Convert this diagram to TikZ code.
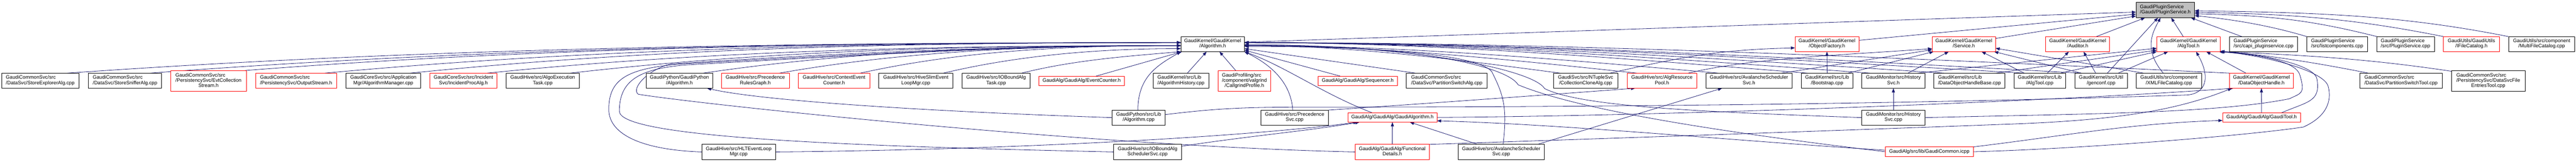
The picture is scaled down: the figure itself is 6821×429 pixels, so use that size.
\documentclass[tikz,border=0pt]{standalone}
\usepackage{fontspec}
\setmainfont{Liberation Sans}
\usetikzlibrary{arrows.meta,calc}
\definecolor{edgeblue}{HTML}{191970}
\definecolor{nodered}{HTML}{FF0000}
\definecolor{rootgrey}{HTML}{BFBFBF}
\pgfdeclarelayer{bg}
\pgfsetlayers{bg,main}
\newcommand\Lone[1]{\begin{tabular}{@{}c@{}}#1\end{tabular}}
\newcommand\Ltwo[2]{\begin{tabular}{@{}l@{}}#1\\\multicolumn{1}{@{}c@{}}{#2}\end{tabular}}
\newcommand\Lthree[3]{\begin{tabular}{@{}l@{}}#1\\#2\\\multicolumn{1}{@{}c@{}}{#3}\end{tabular}}
\newcommand\mknode[7]{\node[#1,minimum width=#2pt,minimum height=#3pt] (#4) at (#5,#6) {#7};}
\begin{document}
\begin{tikzpicture}[x=1pt,y=-1pt,
  gbox/.style={draw=black, line width=1.1pt, fill=white, inner sep=0pt, outer sep=0pt, font=\fontsize{13.2pt}{14pt}\selectfont},
  nb/.style={gbox},
  nr/.style={gbox, draw=nodered},
  ng/.style={gbox, fill=rootgrey},
  dep/.style={draw=edgeblue, line width=1.1pt, -{Triangle[length=11pt,width=8pt]}}]
\useasboundingbox (0,0) rectangle (6821,429);
% ---- level 0
\mknode{ng}{155}{41}{root}{5733.5}{26.5}{\Ltwo{GaudiPluginService}{/Gaudi/PluginService.h}}
% ---- level 1
\mknode{nb}{168}{40}{algh}{3211}{117}{\Ltwo{GaudiKernel/GaudiKernel}{/Algorithm.h}}
\mknode{nr}{169}{40}{objfactory}{4837.5}{117}{\Ltwo{GaudiKernel/GaudiKernel}{/ObjectFactory.h}}
\mknode{nr}{168}{40}{service}{5200}{117}{\Ltwo{GaudiKernel/GaudiKernel}{/Service.h}}
\mknode{nr}{169}{40}{auditor}{5501.5}{117}{\Ltwo{GaudiKernel/GaudiKernel}{/Auditor.h}}
\mknode{nr}{168}{40}{algtool}{5795}{117}{\Ltwo{GaudiKernel/GaudiKernel}{/AlgTool.h}}
\mknode{nb}{181}{40}{capi}{5993.5}{117}{\Ltwo{GaudiPluginService}{/src/capi\_pluginservice.cpp}}
\mknode{nb}{161}{40}{listcomp}{6188.5}{117}{\Ltwo{GaudiPluginService}{/src/listcomponents.cpp}}
\mknode{nb}{153}{40}{pscpp}{6369.5}{117}{\Ltwo{GaudiPluginService}{/src/PluginService.cpp}}
\mknode{nr}{148}{40}{ifilecat}{6544}{117}{\Ltwo{GaudiUtils/GaudiUtils}{/IFileCatalog.h}}
\mknode{nb}{174}{40}{multicat}{6730}{117}{\Ltwo{GaudiUtils/src/component}{/MultiFileCatalog.cpp}}
% ---- level 2
\mknode{nb}{205}{40}{storeexp}{106.5}{214}{\Ltwo{GaudiCommonSvc/src}{/DataSvc/StoreExplorerAlg.cpp}}
\mknode{nb}{194}{40}{storesniff}{331}{214}{\Ltwo{GaudiCommonSvc/src}{/DataSvc/StoreSnifferAlg.cpp}}
\mknode{nr}{200}{55}{evtcoll}{552}{214.5}{\Lthree{GaudiCommonSvc/src}{/PersistencySvc/EvtCollection}{Stream.h}}
\mknode{nr}{214}{40}{outstream}{784}{214}{\Ltwo{GaudiCommonSvc/src}{/PersistencySvc/OutputStream.h}}
\mknode{nb}{198}{40}{algmgr}{1015}{214}{\Ltwo{GaudiCoreSvc/src/Application}{Mgr/AlgorithmManager.cpp}}
\mknode{nr}{178}{40}{incproc}{1227}{214}{\Ltwo{GaudiCoreSvc/src/Incident}{Svc/IncidentProcAlg.h}}
\mknode{nb}{194}{40}{algoexec}{1437}{214}{\Ltwo{GaudiHive/src/AlgoExecution}{Task.cpp}}
\mknode{nb}{176}{40}{gpalgh}{1799}{214}{\Ltwo{GaudiPython/GaudiPython}{/Algorithm.h}}
\mknode{nr}{180}{40}{precrules}{2000}{214}{\Ltwo{GaudiHive/src/Precedence}{RulesGraph.h}}
\mknode{nr}{189}{40}{ctxcounter}{2208.5}{214}{\Ltwo{GaudiHive/src/ContextEvent}{Counter.h}}
\mknode{nb}{196}{40}{hiveslim}{2425}{214}{\Ltwo{GaudiHive/src/HiveSlimEvent}{LoopMgr.cpp}}
\mknode{nb}{179}{40}{ioboundtask}{2637.5}{214}{\Ltwo{GaudiHive/src/IOBoundAlg}{Task.cpp}}
\mknode{nr}{226}{25}{evtcounter}{2864}{214.5}{\Lone{GaudiAlg/GaudiAlg/EventCounter.h}}
\mknode{nb}{148}{40}{alghist}{3127}{214}{\Ltwo{GaudiKernel/src/Lib}{/AlgorithmHistory.cpp}}
\mknode{nr}{138}{55}{callgrind}{3295}{214.5}{\Lthree{GaudiProfiling/src}{/component/valgrind}{/CallgrindProfile.h}}
\mknode{nr}{210}{25}{sequencer}{3595}{214.5}{\Lone{GaudiAlg/GaudiAlg/Sequencer.h}}
\mknode{nb}{214}{40}{partswitch}{3831}{214}{\Ltwo{GaudiCommonSvc/src}{/DataSvc/PartitionSwitchAlg.cpp}}
\mknode{nb}{171}{40}{collclone}{4198.5}{214}{\Ltwo{GaudiSvc/src/NTupleSvc}{/CollectionCloneAlg.cpp}}
\mknode{nr}{185}{40}{algrespool}{4400.5}{214}{\Ltwo{GaudiHive/src/AlgResource}{Pool.h}}
\mknode{nb}{228}{40}{avalsvch}{4631}{214}{\Ltwo{GaudiHive/src/AvalancheScheduler}{Svc.h}}
\mknode{nb}{136}{40}{bootstrap}{4838}{214}{\Ltwo{GaudiKernel/src/Lib}{/Bootstrap.cpp}}
\mknode{nb}{167}{40}{histsvch}{5013.5}{214}{\Ltwo{GaudiMonitor/src/History}{Svc.h}}
\mknode{nb}{188}{40}{dohbase}{5215}{214}{\Ltwo{GaudiKernel/src/Lib}{/DataObjectHandleBase.cpp}}
\mknode{nb}{136}{40}{algtoolcpp}{5401}{214}{\Ltwo{GaudiKernel/src/Lib}{/AlgTool.cpp}}
\mknode{nb}{139}{40}{genconf}{5563.5}{214}{\Ltwo{GaudiKernel/src/Util}{/genconf.cpp}}
\mknode{nb}{174}{40}{xmlcat}{5743}{214}{\Ltwo{GaudiUtils/src/component}{/XMLFileCatalog.cpp}}
\mknode{nr}{168}{40}{doh}{5988}{214}{\Ltwo{GaudiKernel/GaudiKernel}{/DataObjectHandle.h}}
\mknode{nb}{219}{40}{partswitchtool}{6357.5}{214}{\Ltwo{GaudiCommonSvc/src}{/DataSvc/PartitionSwitchTool.cpp}}
\mknode{nb}{195}{55}{dsfet}{6588.5}{214.5}{\Lthree{GaudiCommonSvc/src}{/PersistencySvc/DataSvcFile}{EntriesTool.cpp}}
% ---- level 3
\mknode{nb}{140}{40}{gpalgcpp}{3015}{312}{\Ltwo{GaudiPython/src/Lib}{/Algorithm.cpp}}
\mknode{nb}{178}{40}{precsvc}{3428}{312}{\Ltwo{GaudiHive/src/Precedence}{Svc.cpp}}
\mknode{nr}{236}{25}{gaudialgh}{3687}{311.5}{\Lone{GaudiAlg/GaudiAlg/GaudiAlgorithm.h}}
\mknode{nb}{167}{40}{histsvccpp}{5013.5}{312}{\Ltwo{GaudiMonitor/src/History}{Svc.cpp}}
\mknode{nr}{207}{25}{gauditool}{5988.5}{311.5}{\Lone{GaudiAlg/GaudiAlg/GaudiTool.h}}
% ---- level 4
\mknode{nb}{196}{40}{hlt}{1956}{403}{\Ltwo{GaudiHive/src/HLTEventLoop}{Mgr.cpp}}
\mknode{nb}{179}{40}{ioboundsched}{3038.5}{403}{\Ltwo{GaudiHive/src/IOBoundAlg}{SchedulerSvc.cpp}}
\mknode{nr}{197}{40}{funcdetails}{3686.5}{403}{\Ltwo{GaudiAlg/GaudiAlg/Functional}{Details.h}}
\mknode{nb}{228}{40}{avalsvccpp}{3975}{403}{\Ltwo{GaudiHive/src/AvalancheScheduler}{Svc.cpp}}
\mknode{nr}{233}{25}{gaudicommon}{5108.5}{402.5}{\Lone{GaudiAlg/src/lib/GaudiCommon.icpp}}

\begin{pgfonlayer}{bg}
\fill[white] (0,0) rectangle (6821,429);
% far-left includers of Algorithm.h
\draw[dep] ($(storeexp.north)+(71.5,0)$) .. controls +(980,-69) and +(-980,0) .. ($(algh.west)+(0,-4)$);
\draw[dep] ($(storesniff.north)+(67,0)$) .. controls +(900,-69) and +(-900,0) .. ($(algh.west)+(0,-4)$);
\draw[dep] ($(evtcoll.north east)+(-3,0)$) .. controls +(820,-64) and +(-820,0) .. ($(algh.west)+(0,-4)$);
\draw[dep] ($(outstream.north)+(76,0)$) .. controls +(750,-69) and +(-750,0) .. ($(algh.west)+(0,-4)$);
\draw[dep] ($(algmgr.north)+(71,0)$) .. controls +(680,-69) and +(-680,0) .. ($(algh.west)+(0,-4)$);
\draw[dep] ($(incproc.north)+(63,0)$) .. controls +(610,-62) and +(-610,0) .. ($(algh.west)+(0,4)$);
\draw[dep] ($(algoexec.north)+(73,0)$) .. controls +(540,-62) and +(-540,0) .. ($(algh.west)+(0,4)$);
\draw[dep] ($(gpalgh.north)+(63,0)$) .. controls +(420,-62) and +(-420,0) .. ($(algh.west)+(0,4)$);
\draw[dep] ($(precrules.north)+(64,0)$) .. controls +(350,-62) and +(-350,0) .. ($(algh.west)+(0,4)$);
\draw[dep] ($(ctxcounter.north)+(69.5,0)$) .. controls +(280,-62) and +(-280,0) .. ($(algh.west)+(0,4)$);
\draw[dep] ($(hiveslim.north)+(73,0)$) .. controls +(210,-50) and +(-200,0) .. ($(algh.west)+(0,12)$);
\draw[dep] ($(ioboundtask.north)+(67.5,0)$) .. controls +(140,-35) and +(-140,12) .. (algh.south west);
\draw[dep] ($(evtcounter.north)+(38,0)$) -- ($(algh.south west)+(3,0)$);
% routes round the left
\draw[dep] (hlt.west) .. controls +(-150,-5) and +(0,70) .. (1612,290) .. controls +(0,-80) and +(-140,12) .. (1800,170) .. controls +(450,-25) and +(-450,0) .. ($(algh.west)+(0,4)$);
\draw[dep] (ioboundsched.west) .. controls +(-700,-15) and +(0,70) .. (1640,295) .. controls +(0,-80) and +(-130,10) .. (1820,172) .. controls +(450,-25) and +(-450,0) .. ($(algh.west)+(0,4)$);
\draw[dep] (funcdetails.west) .. controls +(-700,-15) and +(150,25) .. (1690,250) .. controls +(-20,-15) and +(-60,15) .. (1775,170) .. controls +(450,-30) and +(-450,0) .. ($(algh.west)+(0,4)$);
% near includers of Algorithm.h
\draw[dep] ($(gpalgcpp.north)+(-2,0)$) .. controls +(0,-90) and +(-60,35) .. (algh.south west);
\draw[dep] ($(alghist.north)+(17,0)$) -- ($(algh.south)+(-16,0)$);
\draw[dep] ($(callgrind.north)+(-23,0)$) -- ($(algh.south)+(18,0)$);
\draw[dep] ($(precsvc.north)+(-5,0)$) .. controls +(-5,-80) and +(60,30) .. (algh.south east);
\draw[dep] ($(gaudialgh.north)+(-54,0)$) .. controls +(-130,-50) and +(110,40) .. (algh.south east);
\draw[dep] ($(sequencer.north)+(-46,0)$) -- ($(algh.east)+(0,16)$);
\draw[dep] ($(partswitch.north)+(-83,0)$) -- ($(algh.east)+(0,12)$);
% far-right includers of Algorithm.h
\draw[dep] ($(collclone.north)+(-67.5,0)$) .. controls +(-280,-37) and +(280,0) .. ($(algh.east)+(0,4)$);
\draw[dep] ($(algrespool.north)+(-66.5,0)$) .. controls +(-345,-37) and +(345,0) .. ($(algh.east)+(0,4)$);
\draw[dep] ($(avalsvch.north)+(-81,0)$) .. controls +(-420,-37) and +(420,0) .. ($(algh.east)+(0,4)$);
\draw[dep] ($(bootstrap.north)+(-52,0)$) .. controls +(-500,-40) and +(500,0) .. ($(algh.east)+(0,-4)$);
\draw[dep] ($(histsvch.north)+(-61.5,0)$) .. controls +(-550,-40) and +(550,0) .. ($(algh.east)+(0,-4)$);
\draw[dep] ($(dohbase.north)+(-67,0)$) .. controls +(-620,-40) and +(620,0) .. ($(algh.east)+(0,-4)$);
\draw[dep] ($(algtoolcpp.north)+(-41,0)$) .. controls +(-690,-40) and +(690,0) .. ($(algh.east)+(0,-4)$);
\draw[dep] ($(genconf.north)+(-52.5,0)$) .. controls +(-740,-40) and +(740,0) .. ($(algh.east)+(0,-4)$);
\draw[dep] (doh.north west) .. controls +(-870,-40) and +(870,0) .. ($(algh.east)+(0,-4)$);
\draw[dep] ($(avalsvccpp.north)+(5,0)$) .. controls +(12,-100) and +(30,60) .. (3950,190) .. controls +(-40,-50) and +(300,0) .. ($(algh.east)+(0,6)$);
\draw[dep] (histsvccpp.west) .. controls +(-400,-15) and +(100,50) .. (4090,235) .. controls +(-30,-50) and +(450,0) .. ($(algh.east)+(0,2)$);
\draw[dep] (gaudicommon.west) .. controls +(-350,-42) and +(180,75) .. (4020,225) .. controls +(-30,-50) and +(450,0) .. ($(algh.east)+(0,2)$);
% into PluginService.h
\draw[dep] ($(algh.east)+(0,-5)$) -- ($(root.west)+(0,5.5)$);
\draw[dep] ($(objfactory.east)+(0,-10)$) -- ($(root.west)+(0,11)$);
\draw[dep] ($(service.east)+(0,-15)$) -- ($(root.west)+(0,16)$);
\draw[dep] ($(auditor.north)+(49.5,0)$) -- ($(root.south west)+(24,0)$);
\draw[dep] ($(genconf.north)+(16.5,0)$) -- ($(root.south)+(-19.5,0)$);
\draw[dep] ($(xmlcat.north)+(-15,0)$) .. controls +(-50,-60) and +(-25,45) .. ($(root.south)+(-12.5,0)$);
\draw[dep] ($(algtool.north)+(-14,0)$) -- ($(root.south)+(15.5,0)$);
\draw[dep] ($(capi.north west)+(33,0)$) -- ($(root.south east)+(-10,0)$);
\draw[dep] (listcomp.north west) .. controls +(-100,-30) and +(100,10) .. ($(root.east)+(0,15)$);
\draw[dep] ($(pscpp.north west)+(1,0)$) .. controls +(-180,-45) and +(200,5) .. ($(root.east)+(0,10)$);
\draw[dep] (ifilecat.north west) .. controls +(-250,-50) and +(250,5) .. ($(root.east)+(0,6)$);
\draw[dep] ($(multicat.north west)+(-1,0)$) .. controls +(-300,-60) and +(300,5) .. ($(root.east)+(0,2)$);
% into ObjectFactory.h, Service.h, Auditor.h
\draw[dep] (bootstrap.north) -- (objfactory.south);
\draw[dep] ($(collclone.north)+(64.5,0)$) .. controls +(200,-45) and +(-200,5) .. ($(objfactory.west)+(0,10)$);
\draw[dep] ($(avalsvch.north)+(86,0)$) -- ($(service.west)+(0,15)$);
\draw[dep] ($(algrespool.north)+(69.5,0)$) .. controls +(170,-40) and +(-250,18) .. ($(service.west)+(0,12)$);
\draw[dep] ($(bootstrap.north)+(55,0)$) -- ($(service.south west)+(4,0)$);
\draw[dep] ($(histsvch.north)+(38.5,0)$) -- ($(service.south west)+(44,0)$);
\draw[dep] ($(algtoolcpp.north)+(-41,0)$) -- ($(service.south)+(47,0)$);
\draw[dep] ($(genconf.north)+(-52.5,0)$) -- ($(service.south east)+(-4,0)$);
\draw[dep] ($(xmlcat.north west)+(20,0)$) -- ($(service.east)+(0,11)$);
\draw[dep] ($(algtoolcpp.north)+(20,0)$) -- ($(auditor.south)+(-23.5,0)$);
\draw[dep] ($(genconf.north)+(-14.5,0)$) -- ($(auditor.south)+(15.5,0)$);
% into AlgTool.h
\draw[dep] ($(histsvch.north)+(63.5,0)$) -- ($(algtool.west)+(0,11)$);
\draw[dep] ($(dohbase.north)+(70,0)$) -- ($(algtool.west)+(0,16)$);
\draw[dep] ($(algtoolcpp.north)+(55,0)$) -- (algtool.south west);
\draw[dep] ($(genconf.north)+(45.5,0)$) -- ($(algtool.south west)+(30,0)$);
\draw[dep] ($(doh.north)+(-41,0)$) -- ($(algtool.south)+(47,0)$);
\draw[dep] ($(partswitchtool.north)+(-86.5,0)$) .. controls +(-150,-30) and +(120,10) .. ($(algtool.south east)+(0,-1)$);
\draw[dep] ($(dsfet.north west)+(0,2)$) .. controls +(-200,-30) and +(250,10) .. (algtool.south east);
\draw[dep] ($(gpalgcpp.east)+(0,-8)$) .. controls +(150,-18) and +(-200,0) .. (3500,284) .. controls +(900,0) and +(-600,20) .. (5790,252) .. controls +(50,-3) and +(40,70) .. ($(algtool.south)+(20,0)$);
\draw[dep] ($(gauditool.north)+(53,0)$) .. controls +(70,-30) and +(10,60) .. (6135,210) .. controls +(-5,-40) and +(100,5) .. ($(algtool.south east)+(-2,0)$);
\draw[dep] (histsvccpp.east) .. controls +(400,-10) and +(-200,40) .. (6062,262) .. controls +(30,-15) and +(15,50) .. (6090,200) .. controls +(-10,-40) and +(100,8) .. ($(algtool.south east)+(-4,0)$);
\draw[dep] (gaudicommon.east) .. controls +(275,-7) and +(-150,23) .. (6099,337) .. controls +(60,-27) and +(10,40) .. (6165,230) .. controls +(-10,-45) and +(100,8) .. (algtool.south east);
% into DataObjectHandle.h, GaudiTool.h
\draw[dep] (gauditool.north) -- (doh.south);
\draw[dep] ($(gaudicommon.north east)+(-3,0)$) .. controls +(250,-30) and +(-250,8) .. ($(gauditool.west)+(0,8)$);
\draw[dep] (gaudialgh.east) .. controls +(700,-5) and +(-400,30) .. ($(doh.south west)+(10,0)$);
\draw[dep] (funcdetails.north east) .. controls +(600,-20) and +(-400,15) .. (5300,330) .. controls +(300,-10) and +(-150,60) .. ($(doh.south west)+(6,0)$);
% other
\draw[dep] (histsvccpp.north) -- (histsvch.south);
\draw[dep] (precsvc.north east) .. controls +(300,-20) and +(-200,15) .. ($(algrespool.south west)+(22,0)$);
\draw[dep] ($(avalsvccpp.north east)+(-18,0)$) -- ($(avalsvch.south west)+(43,0)$);
\draw[dep] ($(avalsvccpp.north)+(-62,0)$) -- ($(gaudialgh.south)+(46,0)$);
\draw[dep] (funcdetails.north) -- (gaudialgh.south);
\draw[dep] ($(gaudicommon.west)+(0,-4)$) .. controls +(-400,-25) and +(350,10) .. ($(gaudialgh.east)+(0,9)$);
\draw[dep] (hlt.east) .. controls +(600,-5) and +(-300,40) .. ($(gaudialgh.south west)+(26,0)$);
\draw[dep] ($(ioboundsched.north east)+(0,5)$) .. controls +(200,-30) and +(-150,25) .. ($(gaudialgh.south west)+(31,0)$);
\draw[dep] (gpalgcpp.west) .. controls +(-450,-15) and +(150,35) .. ($(gpalgh.south)+(73,0)$);
\end{pgfonlayer}
\end{tikzpicture}
\end{document}
